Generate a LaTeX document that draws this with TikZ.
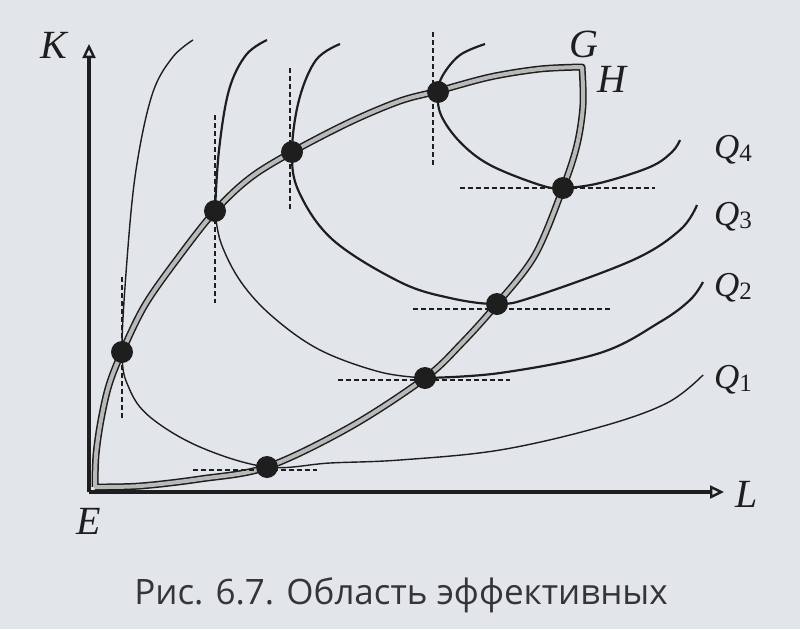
\documentclass[tikz,border=0pt]{standalone}
\usepackage{fontspec}
\setmainfont{Liberation Serif}
\newfontfamily\capfont{Open Sans}
\usetikzlibrary{arrows.meta}
\definecolor{paper}{HTML}{E2E6EB}
\definecolor{ink}{HTML}{1E1E1E}
\newcommand{\qlab}[1]{\textit{Q}\raisebox{-3pt}{\fontsize{25}{25}\selectfont #1}}
\begin{document}
\begin{tikzpicture}[x=1pt,y=-1pt,
  axis/.style={line width=3.2pt, draw=ink, -{Triangle[open,length=14pt,width=13pt,line width=2.4pt]}},
  isothin/.style={line width=1.4pt, draw=ink},
  iso/.style={line width=2.2pt, draw=ink},
  tang/.style={line width=1.6pt, draw=ink, dash pattern=on 5pt off 3pt},
  ridgeout/.style={line width=7pt, draw=ink, line join=round},
  ridgein/.style={line width=4pt, draw=gray!55, line join=round},
  dot/.style={circle, fill=ink, inner sep=0pt, minimum size=22pt},
  lab/.style={font=\fontsize{40}{40}\selectfont\itshape, text=ink, inner sep=0pt},
  qlabel/.style={font=\fontsize{35}{35}\selectfont, text=ink, inner sep=0pt, anchor=west},
]
\fill[paper] (0,0) rectangle (800,629);
\useasboundingbox (0,0) rectangle (800,629);

% axes
\coordinate (O) at (89,492);
\coordinate (Ktip) at (89,44);
\coordinate (Ltip) at (724,492);
\draw[axis] (O) -- (Ktip);
\draw[axis] (O) -- (Ltip);

% isoquants
\draw[isothin] plot[smooth,tension=0.6] coordinates {(193,40) (172,58) (152,95) (136,170) (127,260) (122,352) (129,388) (150,417) (200,447) (267,467) (330,463) (400,460) (500,450) (600,427) (667,403) (703,375)};
\draw[iso] plot[smooth,tension=0.6] coordinates {(267,40) (246,55) (229,90) (219,150) (215,211)};
\draw[isothin] plot[smooth,tension=0.6] coordinates {(215,211) (221,243) (241,282) (273,317) (320,350) (380,372) (425,378)};
\draw[iso] plot[smooth,tension=0.6] coordinates {(425,378) (500,373) (600,353) (660,322) (690,300) (703,282)};
\draw[iso] plot[smooth,tension=0.6] coordinates {(340,44) (316,60) (299,100) (292,152) (299,192) (333,240) (400,282) (450,298) (497,304) (533,297) (633,260) (680,230) (697,205)};
\draw[iso] plot[smooth,tension=0.6] coordinates {(485,44) (460,55) (443,75) (438,92) (441,115) (460,142) (490,165) (540,185) (563,188) (600,183) (650,167) (672,152) (680,140)};

% ridge lines
\foreach \s in {ridgeout,ridgein}{
\draw[\s] plot[smooth,tension=0.55] coordinates {(95,487) (96,455) (101,420) (109,385) (122,352) (145,305) (178,258) (215,211) (250,178) (292,152) (350,122) (400,101) (438,91) (490,77) (540,69) (582,67)}
  -- plot[smooth,tension=0.55] coordinates {(582,67) (583,105) (577,145) (563,188) (535,255) (497,304) (462,343) (425,378) (350,427) (267,467) (200,479) (140,486) (95,487)};
}

% tangent lines
\draw[tang] (122,277) -- (122,418);
\draw[tang] (215,115) -- (215,303);
\draw[tang] (290,68) -- (290,210);
\draw[tang] (433,32) -- (433,165);
\draw[tang] (460,188) -- (655,188);
\draw[tang] (413,309) -- (610,309);
\draw[tang] (338,380) -- (510,380);
\draw[tang] (193,470) -- (317,470);

% points
\node[dot] (p1) at (122,352) {};
\node[dot] (p2) at (215,211) {};
\node[dot] (p3) at (292,152) {};
\node[dot] (p4) at (438,92) {};
\node[dot] (p5) at (563,188) {};
\node[dot] (p6) at (497,304) {};
\node[dot] (p7) at (425,378) {};
\node[dot] (p8) at (267,467) {};

% labels
\node[lab] (K) at (54,45) {K};
\node[lab] (L) at (747,494) {L};
\node[lab] (E) at (89,521) {E};
\node[lab] (G) at (584,44) {G};
\node[lab] (H) at (612,79) {H};
\node[qlabel] (Q4) at (714,150) {\qlab{4}};
\node[qlabel] (Q3) at (714,217) {\qlab{3}};
\node[qlabel] (Q2) at (714,288) {\qlab{2}};
\node[qlabel] (Q1) at (714,380) {\qlab{1}};

% caption
\node[font=\capfont\fontsize{35}{35}\selectfont, text=ink!90, anchor=base, inner sep=0pt] (cap) at (401,604) {Рис. 6.7. Область эффективных};
\end{tikzpicture}
\end{document}
